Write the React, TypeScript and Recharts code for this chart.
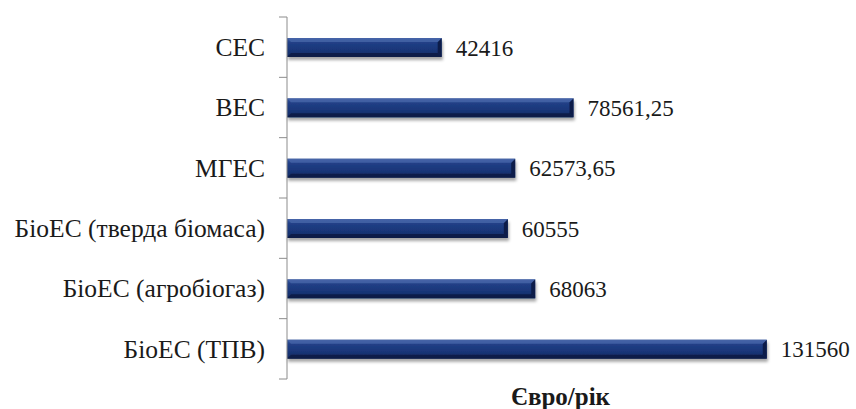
import { BarChart, Bar, XAxis, YAxis, LabelList } from "recharts";

// Річні показники по типах станцій
const stations = [
  "СЕС",
  "ВЕС",
  "МГЕС",
  "БіоЕС (тверда біомаса)",
  "БіоЕС (агробіогаз)",
  "БіоЕС (ТПВ)",
];
const values = [42416, 78561.25, 62573.65, 60555, 68063, 131560];
const axisTitle = "Євро/рік";

const data = stations.map((name, i) => ({ name, value: values[i] }));

const WIDTH = 856;
const HEIGHT = 409;
const TOP = 17;
const AXIS_BOTTOM = 379;
const AXIS_X = 287;
const BAND = (AXIS_BOTTOM - TOP) / stations.length;
const FONT = "Liberation Serif";

// comma as decimal separator
const fmt = (v: any) => String(v).replace(".", ",");

// category label plus Excel-style ticks between categories
const CategoryTick = (props: any) => {
  const { y, payload, index } = props;
  const top = y - BAND / 2;
  return (
    <g>
      <line x1={AXIS_X - 8} x2={AXIS_X} y1={top} y2={top} stroke="#8c8c8c" />
      {index === stations.length - 1 && (
        <line
          x1={AXIS_X - 8}
          x2={AXIS_X}
          y1={top + BAND}
          y2={top + BAND}
          stroke="#8c8c8c"
        />
      )}
      <text
        x={AXIS_X - 22}
        y={y}
        dy="0.35em"
        textAnchor="end"
        style={{ fontFamily: FONT, fontSize: 25.5 }}
        fill="#1a1a1a"
      >
        {payload.value}
      </text>
    </g>
  );
};

// bevelled bar with a soft drop shadow
const BevelBar = (props: any) => {
  const { x, y, width, height } = props;
  if (!width || width <= 0) return null;
  const b = 4;
  return (
    <g filter="url(#barShadow)">
      <rect x={x} y={y} width={width} height={height} fill="url(#barGrad)" />
      <polygon
        points={`${x + width - b},${y + b} ${x + width},${y} ${x + width},${y + height} ${x + width - b},${y + height - b}`}
        fill="#0c1d4a"
      />
      <polygon
        points={`${x},${y} ${x + width},${y} ${x + width - b},${y + b} ${x + b},${y + b}`}
        fill="#4a68ab"
        opacity={0.7}
      />
      <polygon
        points={`${x + b},${y + height - b} ${x + width - b},${y + height - b} ${x + width},${y + height} ${x},${y + height}`}
        fill="#0b1a40"
        opacity={0.8}
      />
    </g>
  );
};

// value at the end of each bar
const ValueLabel = (props: any) => {
  const { x, y, width, height, value } = props;
  return (
    <text
      x={x + width + 14}
      y={y + height / 2}
      dy="0.35em"
      style={{ fontFamily: FONT, fontSize: 23 }}
      fill="#1a1a1a"
    >
      {fmt(value)}
    </text>
  );
};

export default function App() {
  return (
    <div
      style={{
        position: "absolute",
        left: 0,
        top: 0,
        width: WIDTH,
        height: HEIGHT,
        background: "#fff",
      }}
    >
      <BarChart
        width={WIDTH}
        height={HEIGHT}
        data={data}
        layout="vertical"
        margin={{ top: TOP, right: 22, left: 0, bottom: 0 }}
      >
        <defs>
          <linearGradient id="barGrad" x1="0" y1="0" x2="0" y2="1">
            <stop offset="0%" stopColor="#3d5da0" />
            <stop offset="25%" stopColor="#213f86" />
            <stop offset="60%" stopColor="#1a377a" />
            <stop offset="100%" stopColor="#122a62" />
          </linearGradient>
          <filter id="barShadow" x="-5%" y="-30%" width="110%" height="180%">
            <feDropShadow dx="1" dy="3" stdDeviation="1.5" floodColor="#000" floodOpacity="0.35" />
          </filter>
        </defs>
        <XAxis
          type="number"
          domain={[0, 150000]}
          tick={false}
          tickLine={false}
          axisLine={false}
          height={HEIGHT - AXIS_BOTTOM}
          label={{
            value: axisTitle,
            position: "insideBottom",
            offset: 4,
            style: { fontFamily: FONT, fontSize: 25, fontWeight: "bold" },
            fill: "#1a1a1a",
          }}
        />
        <YAxis
          type="category"
          dataKey="name"
          width={AXIS_X}
          tickLine={false}
          axisLine={{ stroke: "#8c8c8c" }}
          tick={<CategoryTick />}
          interval={0}
        />
        <Bar
          dataKey="value"
          barSize={19}
          shape={<BevelBar />}
          isAnimationActive={false}
        >
          <LabelList dataKey="value" content={<ValueLabel />} />
        </Bar>
      </BarChart>
    </div>
  );
}
